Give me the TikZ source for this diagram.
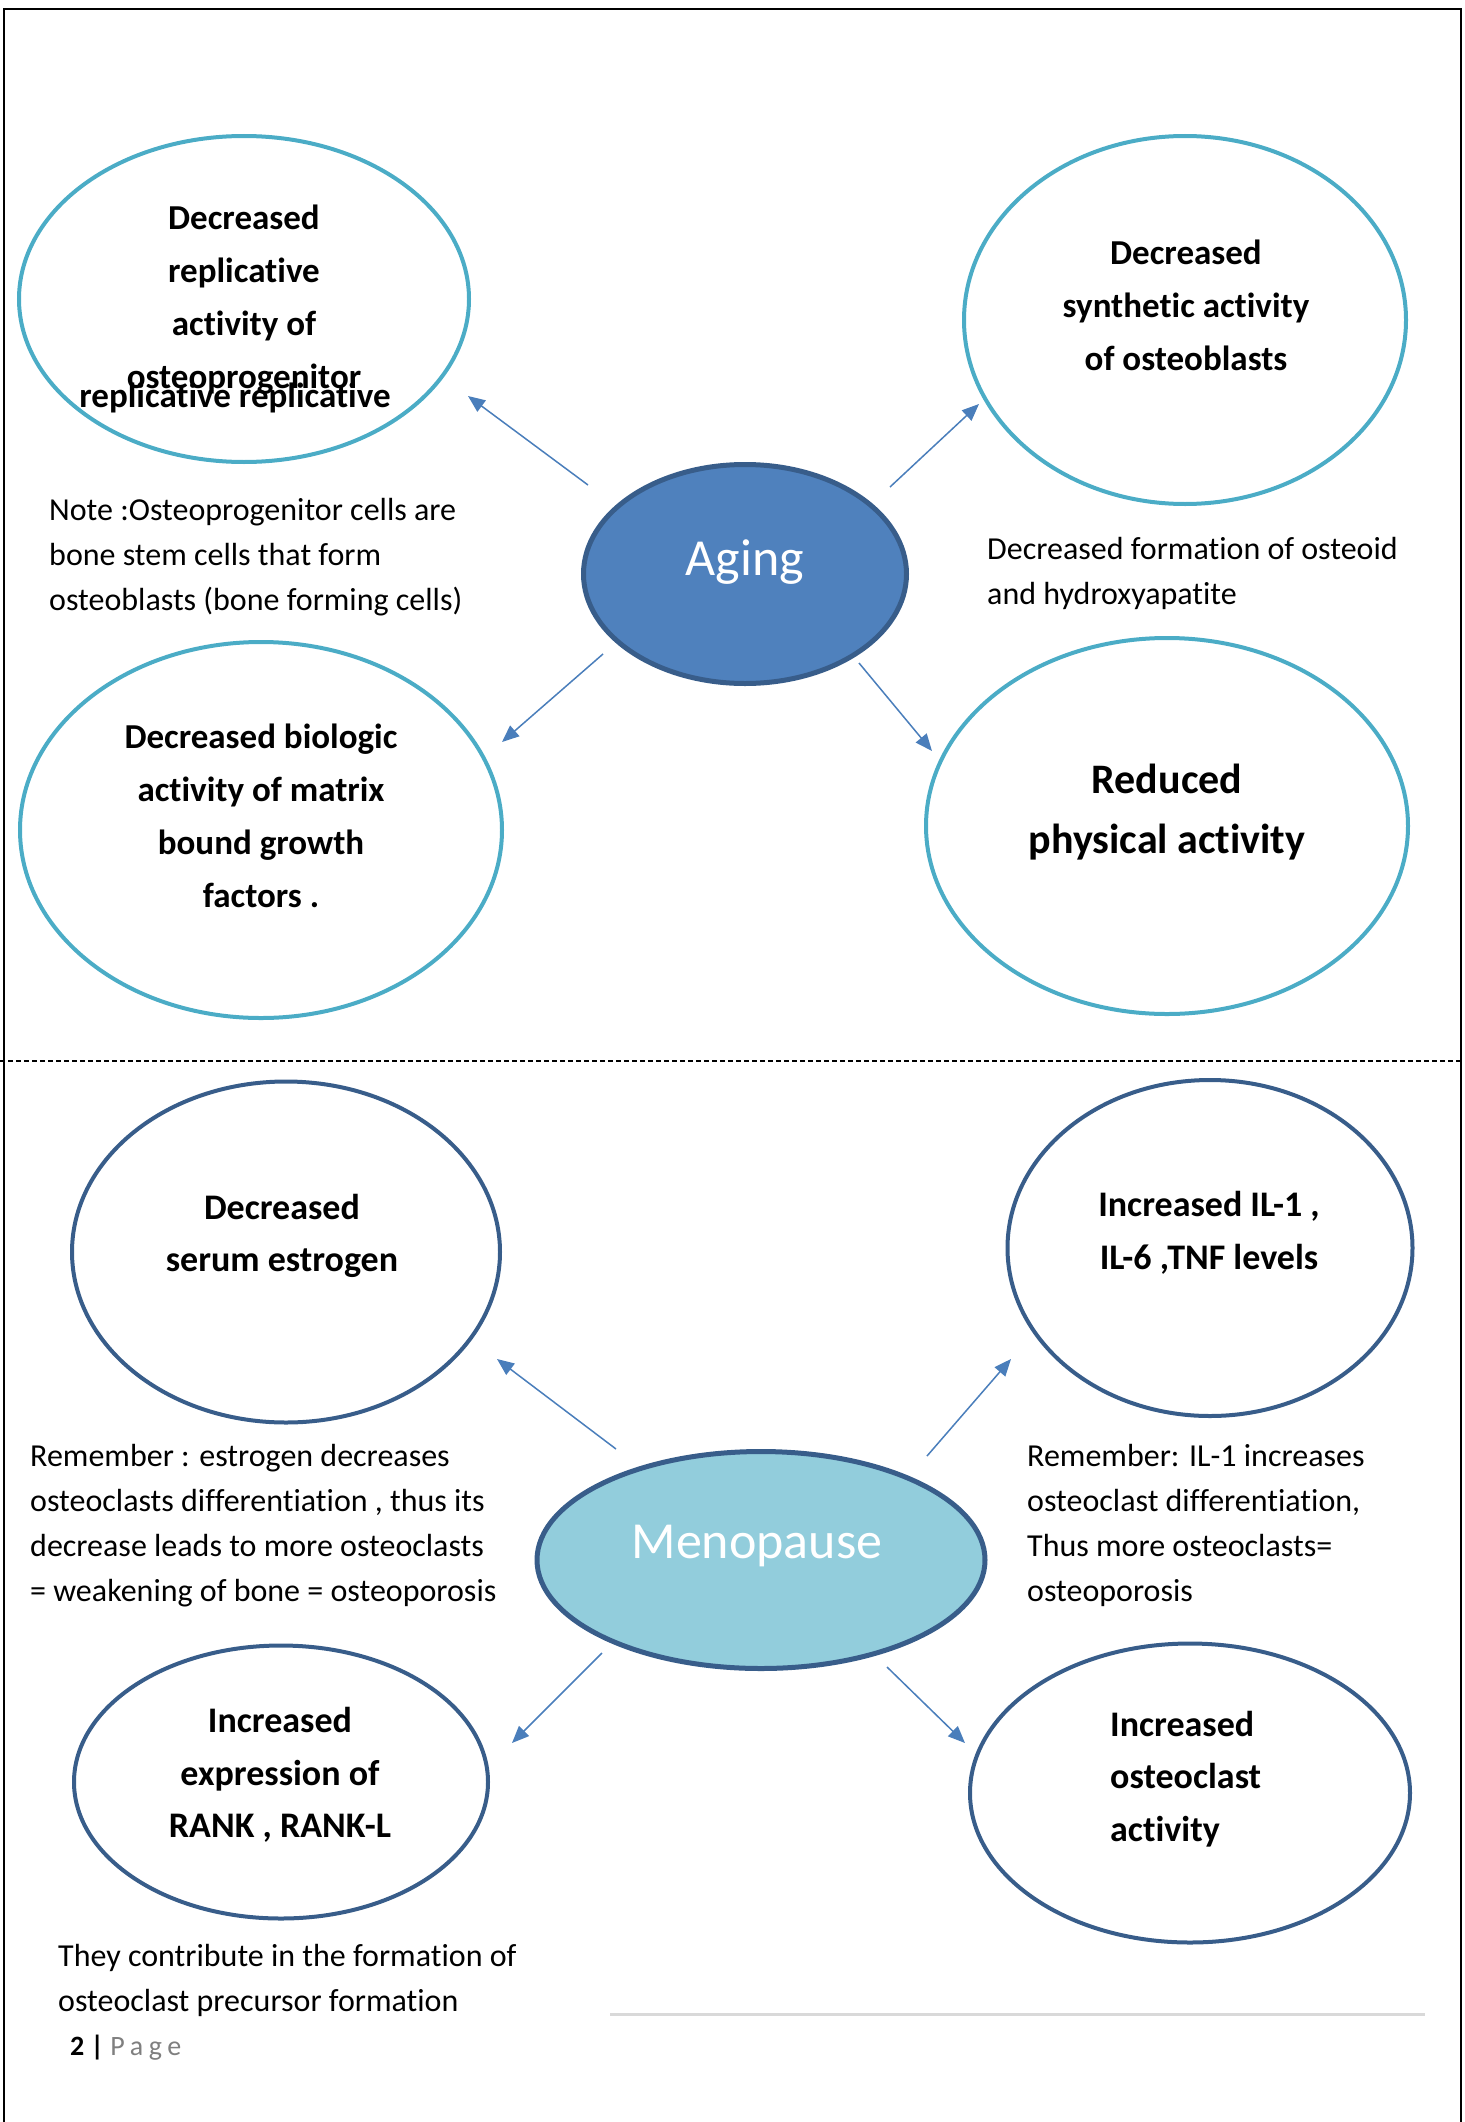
\documentclass[tikz,border=0pt]{standalone}
\usepackage{fontspec}
\setmainfont[Ligatures=NoCommon]{Carlito}
\usetikzlibrary{shapes.geometric}
\usetikzlibrary{positioning}
\usetikzlibrary{arrows.meta}
\definecolor{aqua}{HTML}{4BACC6}
\definecolor{navyb}{HTML}{385D8A}
\definecolor{agingfill}{HTML}{4F81BD}
\definecolor{menofill}{HTML}{92CDDC}
\definecolor{arrowc}{HTML}{4A7EBB}
\definecolor{rulegray}{HTML}{D9D9D9}
\definecolor{pagegray}{HTML}{7F7F7F}
\tikzset{
    topell/.style = {ellipse, draw=aqua, line width=4pt, inner sep=0pt},
    botell/.style = {ellipse, draw=navyb, line width=4pt, inner sep=0pt},
    agingell/.style = {ellipse, draw=navyb, line width=5pt, fill=agingfill, inner sep=0pt},
    menoell/.style = {ellipse, draw=navyb, line width=5pt, fill=menofill, inner sep=0pt},
    boldtxt/.style = {align=center, inner sep=0pt, font=\fontsize{35}{53}\selectfont\bfseries},
    boldtxtb/.style = {align=center, inner sep=0pt, font=\fontsize{36}{52.5}\selectfont\bfseries},
    bigtxt/.style = {inner sep=0pt, text=white, font=\fontsize{52}{60}\selectfont},
    notetxt/.style = {align=left, inner sep=0pt, anchor=base west, font=\fontsize{32}{45}\selectfont}, % base = last line
    edgeb/.style = {-{Triangle[length=17pt,width=14pt]}, line width=1.5pt, arrowc}, % arrows
    frame/.style = {line width=2.5pt, black}
}

\begin{document}
\begin{tikzpicture}[x=1pt,y=-1pt]
\useasboundingbox (0,0) rectangle (1464,2122);
% page frame and separators
\draw[frame] (4,2122) -- (4,9) -- (1461,9) -- (1461,2122);
\draw[line width=1.5pt, dash pattern=on 5pt off 3pt] (0,1061) -- (1461,1061);
\draw[line width=3pt, rulegray] (610,2014) -- (1425,2014);
%
% Aging
\node[agingell, minimum width=323pt, minimum height=219pt] at (745,574) (aging) {};
\node[bigtxt] at (745,562) (agingtxt) {Aging};
\node[topell, minimum width=450pt, minimum height=326pt] at (244,299) (repl) {};
\node[topell, minimum width=442pt, minimum height=368pt] at (1185,320) (synth) {};
\node[topell, minimum width=482pt, minimum height=376pt] at (261,830) (matrix) {};
\node[topell, minimum width=482pt, minimum height=376pt] at (1167,826) (phys) {};
%
\node[boldtxt] at (244,300) (repltxt) {Decreased\\replicative\\activity of\\osteoprogenitor};
\node[boldtxt] at (235,398) (repldup) {replicative replicative};
\node[boldtxt] at (1186,305) (synthtxt) {Decreased\\synthetic activity\\of osteoblasts};
\node[boldtxt] at (261,816) (matrixtxt) {Decreased biologic\\activity of matrix\\bound growth\\factors .};
\node[boldtxt, font=\fontsize{42}{60}\selectfont\bfseries] at (1167,812) (phystxt) {Reduced\\physical activity};
%
\node[notetxt] at (49,610) (note) {Note :Osteoprogenitor cells are\\bone stem cells that form\\osteoblasts (bone forming cells)};
\node[notetxt] at (987,604) (osteoid) {Decreased formation of osteoid\\and hydroxyapatite};
%
\coordinate (a1s) at (588,485); \coordinate (a1e) at (468,396);
\coordinate (a2s) at (890,487); \coordinate (a2e) at (979,404);
\coordinate (a3s) at (603,654); \coordinate (a3e) at (502,742);
\coordinate (a4s) at (859,663); \coordinate (a4e) at (932,751);
\draw[edgeb] (a1s) -- (a1e);
\draw[edgeb] (a2s) -- (a2e);
\draw[edgeb] (a3s) -- (a3e);
\draw[edgeb] (a4s) -- (a4e);
%
% Menopause
\node[menoell, minimum width=448pt, minimum height=217pt] at (761,1560) (meno) {};
\node[bigtxt] at (757,1546) (menotxt) {Menopause};
\node[botell, minimum width=428pt, minimum height=341pt] at (286,1252) (estro) {};
\node[botell, minimum width=405pt, minimum height=336pt] at (1210,1248) (il) {};
\node[botell, minimum width=414pt, minimum height=273pt] at (281,1782) (rank) {};
\node[botell, minimum width=440pt, minimum height=299pt] at (1190,1793) (oclast) {};
%
\node[boldtxtb] at (282,1236) (estrotxt) {Decreased\\serum estrogen};
\node[boldtxtb] at (1209,1233) (iltxt) {Increased IL-1 ,\\IL-6 ,TNF levels};
\node[boldtxtb] at (280,1775) (ranktxt) {Increased\\expression of\\RANK , RANK-L};
\node[boldtxtb, align=left, anchor=west] at (1110,1779) (oclasttxt) {Increased\\osteoclast\\activity};
%
\node[notetxt] at (30,1601) (rem1) {Remember : estrogen decreases\\osteoclasts differentiation , thus its\\decrease leads to more osteoclasts\\= weakening of bone = osteoporosis};
\node[notetxt] at (1027,1601) (rem2) {Remember: IL-1 increases\\osteoclast differentiation,\\Thus more osteoclasts=\\osteoporosis};
\node[notetxt] at (58,2011) (contrib) {They contribute in the formation of\\osteoclast precursor formation};
%
\coordinate (b1s) at (616,1449); \coordinate (b1e) at (497,1359);
\coordinate (b2s) at (927,1456); \coordinate (b2e) at (1011,1359);
\coordinate (b3s) at (602,1653); \coordinate (b3e) at (512,1743);
\coordinate (b4s) at (887,1667); \coordinate (b4e) at (965,1743);
\draw[edgeb] (b1s) -- (b1e);
\draw[edgeb] (b2s) -- (b2e);
\draw[edgeb] (b3s) -- (b3e);
\draw[edgeb] (b4s) -- (b4e);
%
\node[notetxt, font=\fontsize{28}{34}\selectfont] at (70,2055) (pagenum) {\textbf{2 |} {\color{pagegray}\addfontfeature{LetterSpace=20}Page}};

\end{tikzpicture}
\end{document}
